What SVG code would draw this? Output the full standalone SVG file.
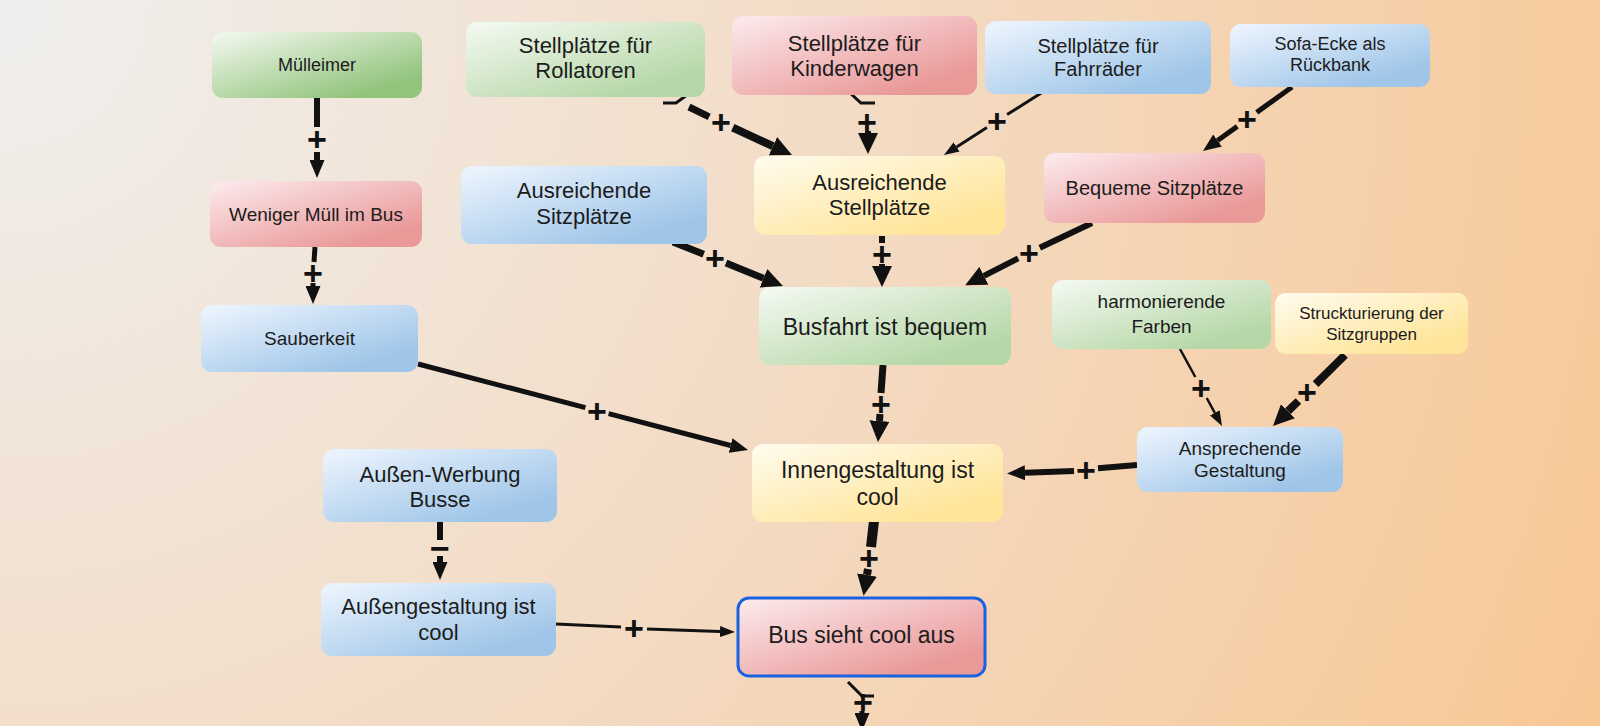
<svg xmlns="http://www.w3.org/2000/svg" width="1600" height="726" viewBox="0 0 1600 726">
<defs>
<radialGradient id="bg" cx="0" cy="0" r="1750" gradientUnits="userSpaceOnUse">
<stop offset="0" stop-color="#efefef"/>
<stop offset="0.06" stop-color="#f0ede9"/>
<stop offset="0.5" stop-color="#f3dbc4"/>
<stop offset="1" stop-color="#f8c896"/>
</radialGradient>
<linearGradient id="gG" x1="0" y1="0.1" x2="0.75" y2="0.9"><stop offset="0" stop-color="#eef6ea"/><stop offset="1" stop-color="#93c47d"/></linearGradient>
<linearGradient id="gL" x1="0" y1="0.1" x2="0.75" y2="0.9"><stop offset="0" stop-color="#f1f8ee"/><stop offset="1" stop-color="#b6d7a8"/></linearGradient>
<linearGradient id="gR" x1="0" y1="0.1" x2="0.75" y2="0.9"><stop offset="0" stop-color="#fbe7e9"/><stop offset="1" stop-color="#ea9999"/></linearGradient>
<linearGradient id="gB" x1="0" y1="0.1" x2="0.75" y2="0.9"><stop offset="0" stop-color="#eaf3fd"/><stop offset="1" stop-color="#9fc5e8"/></linearGradient>
<linearGradient id="gY" x1="0" y1="0.1" x2="0.75" y2="0.9"><stop offset="0" stop-color="#fffaea"/><stop offset="1" stop-color="#ffe599"/></linearGradient>
<marker id="hS" markerUnits="userSpaceOnUse" markerWidth="15" markerHeight="11" refX="0" refY="5.5" orient="auto"><path d="M0,0 L15,5.5 L0,11 z" fill="#111"/></marker>
<marker id="hM" markerUnits="userSpaceOnUse" markerWidth="18" markerHeight="15" refX="0" refY="7.5" orient="auto"><path d="M0,0 L18,7.5 L0,15 z" fill="#111"/></marker>
<marker id="hL" markerUnits="userSpaceOnUse" markerWidth="21" markerHeight="20" refX="0" refY="10" orient="auto"><path d="M0,0 L21,10 L0,20 z" fill="#111"/></marker>
</defs>
<style>
.n rect{rx:11px;ry:11px}
.t{font-family:"Liberation Sans",Arial,sans-serif;fill:#1c1c1c;text-anchor:middle}
.c line,.c path{stroke:#111;fill:none;stroke-linecap:butt}
.lbl{font-family:"Liberation Sans",Arial,sans-serif;font-weight:bold;font-size:34px;fill:#111;text-anchor:middle}
</style>
<rect width="1600" height="726" fill="url(#bg)"/>

<g id="connectors" class="c">
<!-- C1 Mülleimer -> Weniger -->
<line x1="317" y1="98" x2="317" y2="127" stroke-width="6"/>
<line x1="317" y1="152" x2="317" y2="160" stroke-width="6" marker-end="url(#hM)"/>
<text class="lbl" x="317" y="151">+</text>
<!-- C2 Weniger -> Sauberkeit -->
<line x1="315" y1="247" x2="314" y2="262" stroke-width="5"/>
<line x1="313" y1="283" x2="313" y2="286" stroke-width="5" marker-end="url(#hM)"/>
<text class="lbl" x="313" y="285">+</text>
<!-- C3 Sauberkeit -> Innengestaltung -->
<line x1="418" y1="364" x2="585.4" y2="407.6" stroke-width="5"/>
<line x1="608.6" y1="413.6" x2="730.6" y2="445.5" stroke-width="5" marker-end="url(#hM)"/>
<text class="lbl" x="597" y="423">+</text>
<!-- C4 Außen-Werbung -> Außengestaltung -->
<line x1="440" y1="522" x2="440" y2="540" stroke-width="6"/>
<line x1="440" y1="556" x2="440" y2="562" stroke-width="6" marker-end="url(#hM)"/>
<text class="lbl" x="440" y="560">−</text>
<!-- C5 Außengestaltung -> Bus sieht cool aus -->
<line x1="556" y1="624" x2="621" y2="627" stroke-width="3"/>
<line x1="647" y1="629" x2="720" y2="631.5" stroke-width="3" marker-end="url(#hS)"/>
<text class="lbl" x="634" y="640">+</text>
<!-- C6 Innengestaltung -> Bus sieht cool aus -->
<line x1="874" y1="521" x2="871" y2="547" stroke-width="10"/>
<line x1="868" y1="569" x2="867" y2="575" stroke-width="8" marker-end="url(#hL)"/>
<text class="lbl" x="869" y="570">+</text>
<!-- C7 Busfahrt -> Innengestaltung -->
<line x1="883" y1="365" x2="881" y2="393" stroke-width="7"/>
<line x1="880" y1="414" x2="879.5" y2="421" stroke-width="7" marker-end="url(#hL)"/>
<text class="lbl" x="881" y="416">+</text>
<!-- C8 Ausreichende Stellplätze -> Busfahrt -->
<line x1="882" y1="236" x2="882" y2="243" stroke-width="6"/>
<line x1="882" y1="264" x2="882" y2="266" stroke-width="6" marker-end="url(#hL)"/>
<text class="lbl" x="882" y="266">+</text>
<!-- C9 Ausreichende Sitzplätze -> Busfahrt -->
<line x1="673" y1="242" x2="703.7" y2="254.2" stroke-width="7"/>
<line x1="726" y1="263" x2="763.5" y2="278.2" stroke-width="7" marker-end="url(#hL)"/>
<text class="lbl" x="715" y="270">+</text>
<!-- C10 Bequeme Sitzplätze -> Busfahrt -->
<line x1="1092" y1="223" x2="1039.8" y2="247.7" stroke-width="6"/>
<line x1="1018.2" y1="258.3" x2="983.9" y2="275.8" stroke-width="6" marker-end="url(#hL)"/>
<text class="lbl" x="1029" y="265">+</text>
<!-- C11 Rollatoren -> Ausreichende Stellplätze -->
<path d="M663,103 L676,103 L687,95" stroke-width="3"/>
<line x1="689" y1="107" x2="709.2" y2="116.8" stroke-width="7"/>
<line x1="732.8" y1="127.7" x2="772.9" y2="146.2" stroke-width="8" marker-end="url(#hL)"/>
<text class="lbl" x="721" y="134">+</text>
<!-- C12 Kinderwagen -> Ausreichende Stellplätze -->
<path d="M850,93 L861,103 L875,103" stroke-width="3"/>
<line x1="868" y1="131" x2="868" y2="133" stroke-width="6" marker-end="url(#hL)"/>
<text class="lbl" x="867" y="134">+</text>
<!-- C13 Fahrräder -> Ausreichende Stellplätze -->
<line x1="1046" y1="90" x2="1007.1" y2="114.6" stroke-width="3"/>
<line x1="986.9" y1="127.6" x2="956.6" y2="146.9" stroke-width="3" marker-end="url(#hS)"/>
<text class="lbl" x="997" y="133">+</text>
<!-- C14 Sofa-Ecke -> Bequeme Sitzplätze -->
<line x1="1292" y1="87" x2="1256.7" y2="112.4" stroke-width="5"/>
<line x1="1237.3" y1="126.4" x2="1217.6" y2="140.5" stroke-width="5" marker-end="url(#hM)"/>
<text class="lbl" x="1247" y="131">+</text>
<!-- C15 harmonierende Farben -> Ansprechende Gestaltung -->
<line x1="1180" y1="349" x2="1195.3" y2="377" stroke-width="2.5"/>
<line x1="1206.7" y1="398" x2="1214.8" y2="412.8" stroke-width="2.5" marker-end="url(#hS)"/>
<text class="lbl" x="1201" y="400">+</text>
<!-- C16 Struckturierung -> Ansprechende Gestaltung -->
<line x1="1345" y1="355" x2="1315.6" y2="384.1" stroke-width="8"/>
<line x1="1298.4" y1="401" x2="1288" y2="411.2" stroke-width="8" marker-end="url(#hL)"/>
<text class="lbl" x="1307" y="404">+</text>
<!-- C17 Ansprechende Gestaltung -> Innengestaltung -->
<line x1="1137" y1="465" x2="1098" y2="468.2" stroke-width="6"/>
<line x1="1074" y1="471" x2="1025" y2="472.8" stroke-width="6" marker-end="url(#hM)"/>
<text class="lbl" x="1086" y="482">+</text>
<!-- C18 Bus sieht cool aus -> (unten) -->
<path d="M848,682 L862,696 L874,696" stroke-width="3"/>
<line x1="862" y1="711" x2="862" y2="713" stroke-width="5" marker-end="url(#hM)"/>
<text class="lbl" x="863" y="714">+</text>
</g>

<g id="n-muelleimer" class="n"><rect x="212" y="32" width="210" height="66" fill="url(#gG)"/><text class="t" x="317" y="71" font-size="18">Mülleimer</text></g>
<g id="n-rollatoren" class="n"><rect x="466" y="22" width="239" height="75" fill="url(#gL)"/><text class="t" x="585.5" y="53" font-size="22">Stellplätze für</text><text class="t" x="585.5" y="78" font-size="22">Rollatoren</text></g>
<g id="n-kinderwagen" class="n"><rect x="732" y="16" width="245" height="79" fill="url(#gR)"/><text class="t" x="854.5" y="51" font-size="22">Stellplätze für</text><text class="t" x="854.5" y="76" font-size="22">Kinderwagen</text></g>
<g id="n-fahrraeder" class="n"><rect x="985" y="21" width="226" height="73" fill="url(#gB)"/><text class="t" x="1098" y="53" font-size="20">Stellplätze für</text><text class="t" x="1098" y="76" font-size="20">Fahrräder</text></g>
<g id="n-sofa" class="n"><rect x="1230" y="24" width="200" height="63" fill="url(#gB)"/><text class="t" x="1330" y="50" font-size="18">Sofa-Ecke als</text><text class="t" x="1330" y="71" font-size="18">Rückbank</text></g>
<g id="n-weniger-muell" class="n"><rect x="210" y="181" width="212" height="66" fill="url(#gR)"/><text class="t" x="316" y="221" font-size="19">Weniger Müll im Bus</text></g>
<g id="n-sitzplaetze" class="n"><rect x="461" y="166" width="246" height="78" fill="url(#gB)"/><text class="t" x="584" y="198" font-size="22">Ausreichende</text><text class="t" x="584" y="224" font-size="22">Sitzplätze</text></g>
<g id="n-stellplaetze" class="n"><rect x="754" y="156" width="251" height="79" fill="url(#gY)"/><text class="t" x="879.5" y="190" font-size="22">Ausreichende</text><text class="t" x="879.5" y="215" font-size="22">Stellplätze</text></g>
<g id="n-bequeme" class="n"><rect x="1044" y="153" width="221" height="70" fill="url(#gR)"/><text class="t" x="1154.5" y="195" font-size="20">Bequeme Sitzplätze</text></g>
<g id="n-sauberkeit" class="n"><rect x="201" y="305" width="217" height="67" fill="url(#gB)"/><text class="t" x="309.5" y="345" font-size="19">Sauberkeit</text></g>
<g id="n-busfahrt" class="n"><rect x="759" y="287" width="252" height="78" fill="url(#gL)"/><text class="t" x="885" y="335" font-size="23">Busfahrt ist bequem</text></g>
<g id="n-farben" class="n"><rect x="1052" y="280" width="219" height="69" fill="url(#gL)"/><text class="t" x="1161.5" y="308" font-size="19">harmonierende</text><text class="t" x="1161.5" y="333" font-size="19">Farben</text></g>
<g id="n-sitzgruppen" class="n"><rect x="1275" y="293" width="193" height="61" fill="url(#gY)"/><text class="t" x="1371.5" y="319" font-size="17">Struckturierung der</text><text class="t" x="1371.5" y="340" font-size="17">Sitzgruppen</text></g>
<g id="n-innengestaltung" class="n"><rect x="752" y="444" width="251" height="78" fill="url(#gY)"/><text class="t" x="877.5" y="478" font-size="23">Innengestaltung ist</text><text class="t" x="877.5" y="505" font-size="23">cool</text></g>
<g id="n-ansprechend" class="n"><rect x="1137" y="427" width="206" height="65" fill="url(#gB)"/><text class="t" x="1240" y="455" font-size="19">Ansprechende</text><text class="t" x="1240" y="477" font-size="19">Gestaltung</text></g>
<g id="n-aussenwerbung" class="n"><rect x="323" y="449" width="234" height="73" fill="url(#gB)"/><text class="t" x="440" y="482" font-size="22">Außen-Werbung</text><text class="t" x="440" y="507" font-size="22">Busse</text></g>
<g id="n-aussengestaltung" class="n"><rect x="321" y="583" width="235" height="73" fill="url(#gB)"/><text class="t" x="438.5" y="614" font-size="22">Außengestaltung ist</text><text class="t" x="438.5" y="640" font-size="22">cool</text></g>
<g id="n-bus-cool" class="n"><rect x="738" y="598" width="247" height="78" fill="url(#gR)" stroke="#1a62e0" stroke-width="3"/><text class="t" x="861.5" y="643" font-size="23">Bus sieht cool aus</text></g>
</svg>
